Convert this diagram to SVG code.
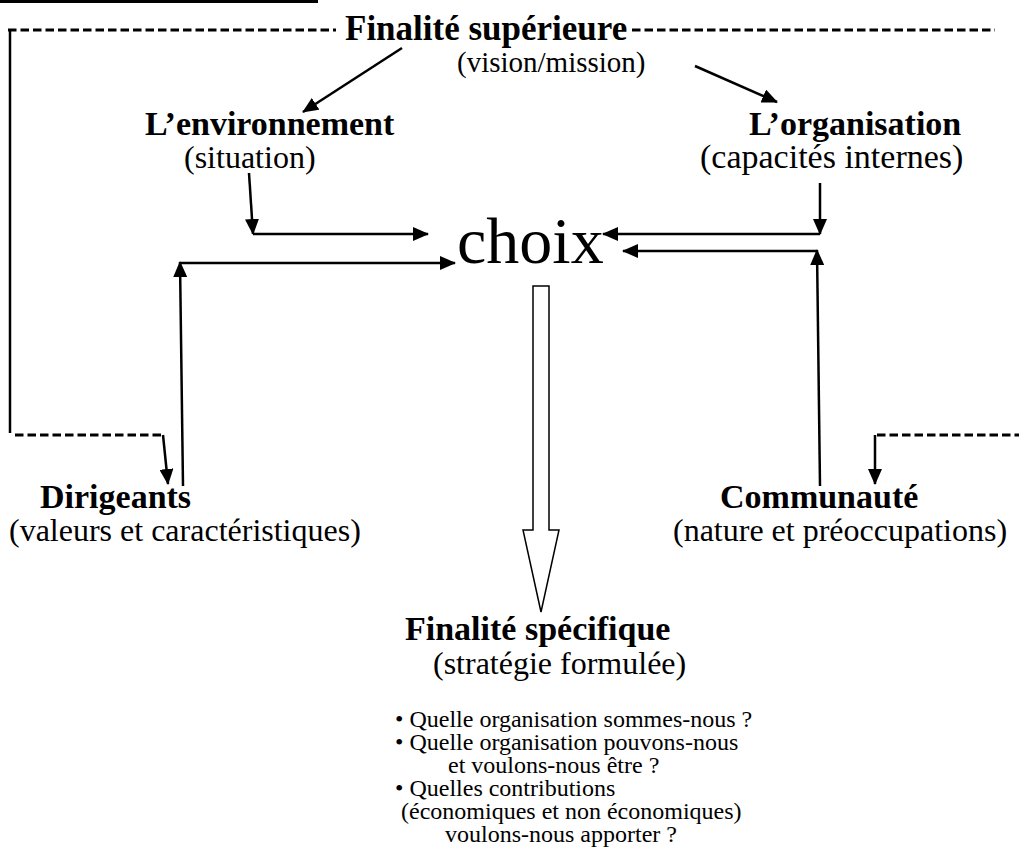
<svg xmlns="http://www.w3.org/2000/svg" width="1019" height="854" viewBox="0 0 1019 854">
  <style>
    .b { font-family: "Liberation Serif", "Times New Roman", serif; font-weight: bold; font-size: 34px; fill: #000; }
    .r { font-family: "Liberation Serif", "Times New Roman", serif; font-size: 32px; fill: #000; }
    .s { font-family: "Liberation Serif", "Times New Roman", serif; font-size: 24px; fill: #000; }
    .ln { stroke: #000; stroke-width: 2.5; fill: none; }
    .dash { stroke: #000; stroke-width: 3; fill: none; stroke-dasharray: 8.5 4; }
    .arr { marker-end: url(#ah); }
  </style>
  <defs>
    <marker id="ah" markerUnits="userSpaceOnUse" markerWidth="16" markerHeight="14" refX="15" refY="7" orient="auto">
      <path d="M0,0 L16,7 L0,14 Z" fill="#000"/>
    </marker>
  </defs>
  <rect width="1019" height="854" fill="#fff"/>

  <!-- heading rule -->
  <rect x="0" y="0" width="318" height="3" fill="#000"/>

  <g id="finalite-superieure">
    <text class="b" x="345" y="40" style="font-size:35px">Finalité supérieure</text>
    <text class="r" x="457" y="72" style="font-size:29px">(vision/mission)</text>
  </g>

  <g id="environnement">
    <text class="b" x="145" y="135">L’environnement</text>
    <text class="r" x="184" y="168">(situation)</text>
  </g>

  <g id="organisation">
    <text class="b" x="749" y="135">L’organisation</text>
    <text class="r" x="700" y="168" style="font-size:34px">(capacités internes)</text>
  </g>

  <g id="choix">
    <text x="457" y="263" style="font-family:'Liberation Serif','Times New Roman',serif;font-size:66px;fill:#000">choix</text>
  </g>

  <g id="dirigeants">
    <text class="b" x="40" y="508">Dirigeants</text>
    <text class="r" x="9" y="541">(valeurs et caractéristiques)</text>
  </g>

  <g id="communaute">
    <text class="b" x="720" y="508">Communauté</text>
    <text class="r" x="673" y="541">(nature et préoccupations)</text>
  </g>

  <g id="finalite-specifique">
    <text class="b" x="405" y="640">Finalité spécifique</text>
    <text class="r" x="433" y="674">(stratégie formulée)</text>
    <text class="s" x="395" y="727">• Quelle organisation sommes-nous ?</text>
    <text class="s" x="395" y="750">• Quelle organisation pouvons-nous</text>
    <text class="s" x="448" y="773">et voulons-nous être ?</text>
    <text class="s" x="395" y="796">• Quelles contributions</text>
    <text class="s" x="401" y="819">(économiques et non économiques)</text>
    <text class="s" x="445" y="842">voulons-nous apporter ?</text>
  </g>

  <g id="connectors">
    <!-- dashed feedback frame -->
    <line class="dash" x1="8" y1="30" x2="336" y2="30"/>
    <line class="dash" x1="632" y1="30" x2="995" y2="30"/>
    <line class="ln" x1="10" y1="30" x2="10" y2="433"/>
    <line class="dash" x1="15" y1="435" x2="163" y2="435"/>
    <line class="ln arr" x1="163" y1="435" x2="168" y2="484"/>
    <line class="dash" x1="877" y1="435" x2="1019" y2="435"/>
    <line class="ln arr" x1="875" y1="435" x2="875" y2="484"/>

    <!-- from the higher purpose -->
    <line class="ln arr" x1="402" y1="48" x2="303" y2="112"/>
    <line class="ln arr" x1="695" y1="66" x2="777" y2="102"/>

    <!-- inputs into the choice -->
    <line class="ln arr" x1="249" y1="173" x2="253" y2="234"/>
    <line class="ln arr" x1="253" y1="234" x2="428" y2="234"/>
    <line class="ln arr" x1="183" y1="486" x2="180" y2="262"/>
    <line class="ln arr" x1="180" y1="263" x2="455" y2="263"/>
    <line class="ln arr" x1="820" y1="183" x2="820" y2="234"/>
    <line class="ln arr" x1="820" y1="234" x2="603" y2="234"/>
    <line class="ln arr" x1="820" y1="486" x2="817" y2="250"/>
    <line class="ln arr" x1="817" y1="251" x2="623" y2="251"/>

    <!-- hollow block arrow towards the specific purpose -->
    <polygon points="533,286 549,286 549,530 559,530 541,612 523,530 533,530" fill="#fff" stroke="#000" stroke-width="1.5"/>
  </g>
</svg>
